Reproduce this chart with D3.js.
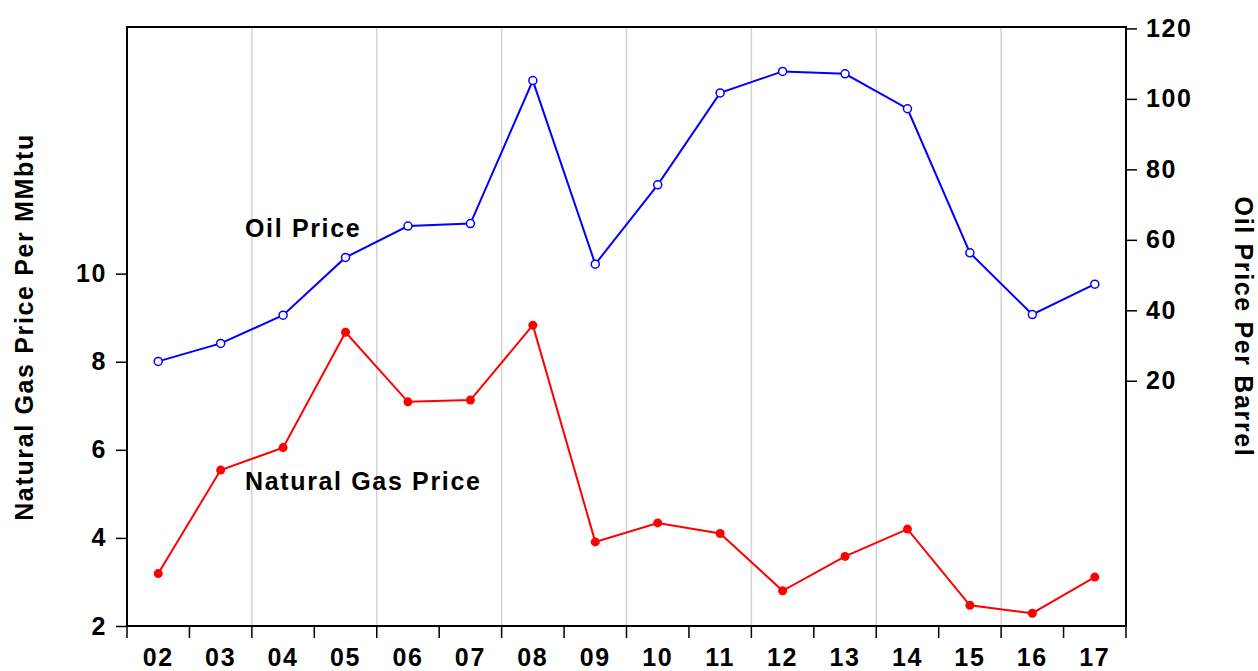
<!DOCTYPE html>
<html><head><meta charset="utf-8">
<script src="https://cdn.jsdelivr.net/npm/d3@7"></script>
<style>body{margin:0;background:#fff}svg{display:block}text{font-family:"Liberation Sans",Arial,sans-serif;font-weight:bold;fill:#000}</style>
</head><body>
<svg id="chart" width="1258" height="671"></svg>
<script>
const years = ["02","03","04","05","06","07","08","09","10","11","12","13","14","15","16","17"];
const gasPrice = [3.19,5.54,6.05,8.67,7.09,7.13,8.83,3.91,4.34,4.10,2.80,3.58,4.20,2.47,2.29,3.11];
const oilPrice = [25.5,30.6,38.6,55.0,63.9,64.6,105.2,53.1,75.6,101.7,107.8,107.1,97.2,56.3,38.8,47.4];
const gasTicks = [2,4,6,8,10];
const oilTicks = [20,40,60,80,100,120];
const labels = {left:"Natural Gas Price Per MMbtu", right:"Oil Price Per Barrel", oil:"Oil Price", gas:"Natural Gas Price"};

const svg = d3.select("#chart");
const L=127, R=1126, T=27, B=626;
const x = d3.scaleBand().domain(years).range([L,R]);
const yGas = d3.scaleLinear().domain([2,15.6]).range([B,T]);
const yOil = d3.scaleLinear().domain([-49.6,120.4]).range([B,T]);
const cx = d => x(d)+x.bandwidth()/2;
const LS = "1.65px";
const FS = 25;

// gridlines
svg.append("g").selectAll("line").data(years.filter((d,i)=>i>0 && i%2===0)).join("line")
  .attr("x1",d=>x(d)).attr("x2",d=>x(d)).attr("y1",T).attr("y2",B)
  .attr("stroke","#d3d3d3").attr("stroke-width",1.5);

// frame
svg.append("rect").attr("x",L).attr("y",T).attr("width",R-L).attr("height",B-T)
  .attr("fill","none").attr("stroke","#000").attr("stroke-width",2);

// left axis
const gl = svg.append("g").attr("transform",`translate(${L},0)`)
  .call(d3.axisLeft(yGas).tickValues(gasTicks).tickSize(11).tickPadding(9).tickFormat(d3.format("d")));
// right axis
const gr = svg.append("g").attr("transform",`translate(${R},0)`)
  .call(d3.axisRight(yOil).tickValues(oilTicks).tickSize(11).tickPadding(9).tickFormat(d3.format("d")));
// bottom axis
const boundaries = years.map(d=>x(d)).concat([R]);
const gb = svg.append("g").attr("transform",`translate(0,${B})`)
  .call(d3.axisBottom(x).tickSize(0).tickPadding(22));
gb.selectAll(".tk").data(boundaries).join("line").attr("class","tk")
  .attr("x1",d=>d).attr("x2",d=>d).attr("y1",0).attr("y2",12).attr("stroke","#000").attr("stroke-width",1.5);
[gl,gr,gb].forEach(g=>{
  g.select(".domain").remove();
  g.selectAll(".tick line").attr("stroke","#000").attr("stroke-width",1.5);
  g.selectAll("text").attr("font-size",FS).attr("font-family",'"Liberation Sans",Arial,sans-serif')
   .attr("font-weight","bold").style("letter-spacing",LS).attr("fill","#000");
});
gb.selectAll(".tick text").attr("dy","0.71em");

// lines
const lineGen = (ys, vals) => d3.line().x((d,i)=>cx(years[i])).y(d=>ys(d))(vals);
svg.append("path").attr("d",lineGen(yGas,gasPrice)).attr("fill","none").attr("stroke","#ff0000").attr("stroke-width",2);
svg.append("path").attr("d",lineGen(yOil,oilPrice)).attr("fill","none").attr("stroke","#0000ff").attr("stroke-width",2);
svg.append("g").selectAll("circle").data(gasPrice).join("circle")
  .attr("cx",(d,i)=>cx(years[i])).attr("cy",d=>yGas(d)).attr("r",4.5).attr("fill","#ff0000");
svg.append("g").selectAll("circle").data(oilPrice).join("circle")
  .attr("cx",(d,i)=>cx(years[i])).attr("cy",d=>yOil(d)).attr("r",4).attr("fill","#fff").attr("stroke","#0000ff").attr("stroke-width",1.5);

// annotations
svg.append("text").attr("x",245).attr("y",237).attr("font-size",FS).style("letter-spacing",LS).text(labels.oil);
svg.append("text").attr("x",245).attr("y",490).attr("font-size",FS).style("letter-spacing",LS).text(labels.gas);

// axis titles
svg.append("text").attr("transform","translate(33,327) rotate(-90)").attr("text-anchor","middle")
  .attr("font-size",FS).style("letter-spacing",LS).text(labels.left);
svg.append("text").attr("transform","translate(1235,327) rotate(90)").attr("text-anchor","middle")
  .attr("font-size",FS).style("letter-spacing",LS).text(labels.right);
</script>
</body></html>
